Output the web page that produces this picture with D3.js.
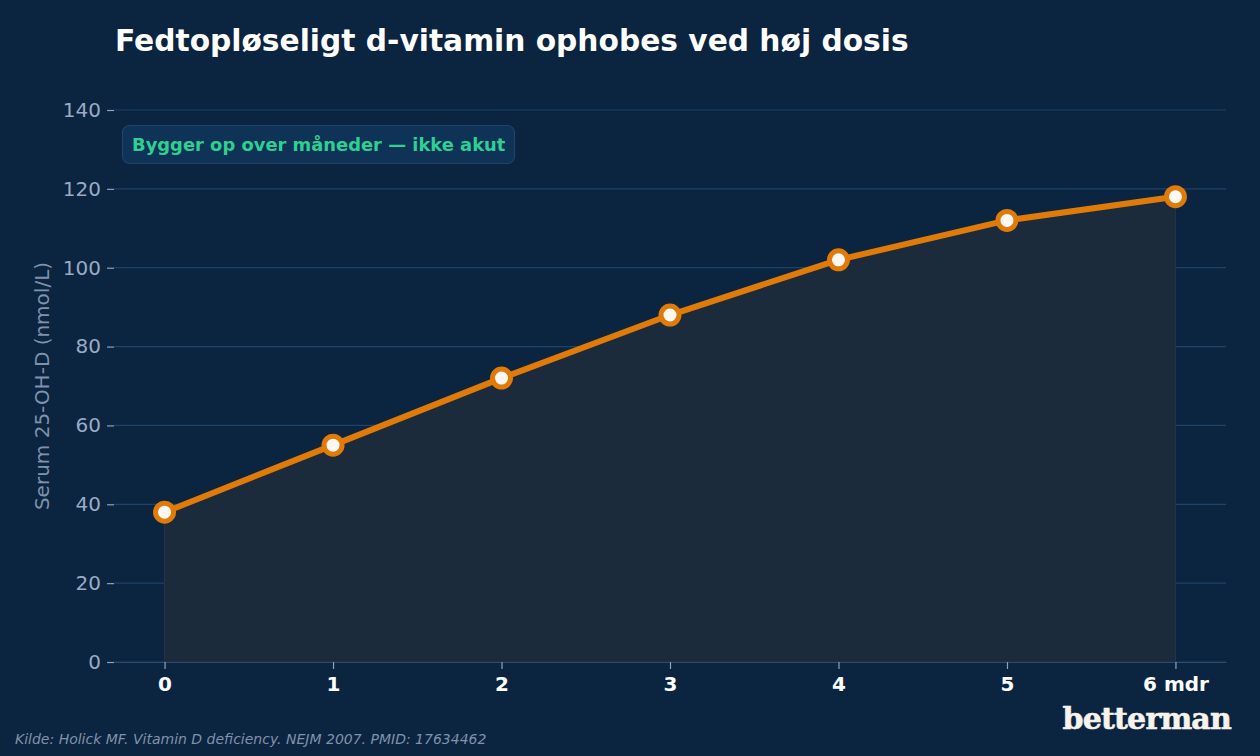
<!DOCTYPE html>
<html>
<head>
<meta charset="utf-8">
<script src="https://cdn.jsdelivr.net/npm/d3@7"></script>
<style>
  html, body { margin: 0; padding: 0; background: #0b2440; }
  svg { display: block; }
</style>
</head>
<body>
<div id="chart"></div>
<script>
// data
var months = [0, 1, 2, 3, 4, 5, 6];
var monthLabels = ["0", "1", "2", "3", "4", "5", "6 mdr"];
var serumLevel = [38, 55, 72, 88, 102, 112, 118];
var yTicks = [0, 20, 40, 60, 80, 100, 120, 140];

var W = 1260, H = 756;
var margin = { top: 110, right: 34, bottom: 94, left: 114 };
var width = W - margin.left - margin.right;
var height = H - margin.top - margin.bottom;

var svg = d3.select("#chart").append("svg")
  .attr("width", W)
  .attr("height", H)
  .style("font-family", "'DejaVu Sans', sans-serif");

svg.append("rect").attr("width", W).attr("height", H).attr("fill", "#0b2440");

var g = svg.append("g")
  .attr("transform", "translate(" + margin.left + "," + margin.top + ")");

var x = d3.scaleLinear().domain([-0.3, 6.3]).range([0, width]);
var y = d3.scaleLinear().domain([0, 140]).range([height, 0]);

// gridlines
g.selectAll("line.grid")
  .data(yTicks)
  .enter().append("line")
  .attr("class", "grid")
  .attr("x1", 0).attr("x2", width)
  .attr("y1", function (d) { return y(d); })
  .attr("y2", function (d) { return y(d); })
  .attr("stroke", "#1f4268")
  .attr("stroke-width", 1.2);

// area under the curve
var pts = months.map(function (m, i) { return { m: m, v: serumLevel[i] }; });

g.append("path")
  .datum(pts)
  .attr("d", d3.area()
    .x(function (d) { return x(d.m); })
    .y0(y(0))
    .y1(function (d) { return y(d.v); }))
  .attr("fill", "#1c2b3b")
  .attr("stroke", "#243546")
  .attr("stroke-width", 1);

// y axis
var yAxis = g.append("g")
  .call(d3.axisLeft(y).tickValues(yTicks).tickSize(7).tickPadding(6));
yAxis.select(".domain").remove();
yAxis.selectAll(".tick line").attr("stroke", "#8ea2bc").attr("stroke-width", 1.2);
yAxis.selectAll(".tick text")
  .attr("fill", "#9aabc3")
  .style("font-size", "20px")
  .style("font-family", "'DejaVu Sans', sans-serif");

// x axis
var xAxis = g.append("g")
  .attr("transform", "translate(0," + height + ")")
  .call(d3.axisBottom(x).tickValues(months)
    .tickFormat(function (d, i) { return monthLabels[i]; })
    .tickSize(7).tickPadding(8).tickSizeOuter(0));
xAxis.select(".domain").attr("stroke", "#2c4a6e").attr("stroke-width", 1.2);
xAxis.selectAll(".tick line").attr("stroke", "#8ea2bc").attr("stroke-width", 1.2);
xAxis.selectAll(".tick text")
  .attr("fill", "#ffffff")
  .attr("font-weight", "bold")
  .style("font-size", "20px")
  .style("font-family", "'DejaVu Sans', sans-serif");

// line
g.append("path")
  .datum(pts)
  .attr("d", d3.line()
    .x(function (d) { return x(d.m); })
    .y(function (d) { return y(d.v); }))
  .attr("fill", "none")
  .attr("stroke", "#e07b0a")
  .attr("stroke-width", 6)
  .attr("stroke-linejoin", "round");

// markers
g.selectAll("circle.pt")
  .data(pts)
  .enter().append("circle")
  .attr("class", "pt")
  .attr("cx", function (d) { return x(d.m); })
  .attr("cy", function (d) { return y(d.v); })
  .attr("r", 9)
  .attr("fill", "#fbf8f3")
  .attr("stroke", "#e07b0a")
  .attr("stroke-width", 5);

// y label
svg.append("text")
  .attr("transform", "translate(49," + (margin.top + height / 2) + ") rotate(-90)")
  .attr("text-anchor", "middle")
  .attr("fill", "#8092ab")
  .style("font-size", "20px")
  .text("Serum 25-OH-D (nmol/L)");

// title
svg.append("text")
  .attr("x", 115).attr("y", 51)
  .attr("fill", "#ffffff")
  .attr("font-weight", "bold")
  .style("font-size", "29.7px")
  .text("Fedtopløseligt d-vitamin ophobes ved høj dosis");

// annotation box
svg.append("rect")
  .attr("x", 122.5).attr("y", 125.5)
  .attr("width", 392).attr("height", 38)
  .attr("rx", 7)
  .attr("fill", "#0f3257")
  .attr("stroke", "#1f436b")
  .attr("stroke-width", 1.2);
svg.append("text")
  .attr("x", 132).attr("y", 151)
  .attr("fill", "#2fcf93")
  .attr("font-weight", "bold")
  .style("font-size", "17.9px")
  .text("Bygger op over måneder — ikke akut");

// source
svg.append("text")
  .attr("x", 15).attr("y", 744)
  .attr("fill", "#8092ab")
  .attr("font-style", "italic")
  .style("font-size", "14px")
  .text("Kilde: Holick MF. Vitamin D deficiency. NEJM 2007. PMID: 17634462");

// logo
svg.append("text")
  .attr("x", 1231).attr("y", 729)
  .attr("text-anchor", "end")
  .attr("fill", "#f7f3ec")
  .attr("font-weight", "bold")
  .style("font-family", "'DejaVu Serif', serif")
  .style("font-size", "30px")
  .style("letter-spacing", "-0.8px")
  .attr("stroke", "#f7f3ec")
  .attr("stroke-width", 0.6)
  .text("betterman");
</script>
</body>
</html>
